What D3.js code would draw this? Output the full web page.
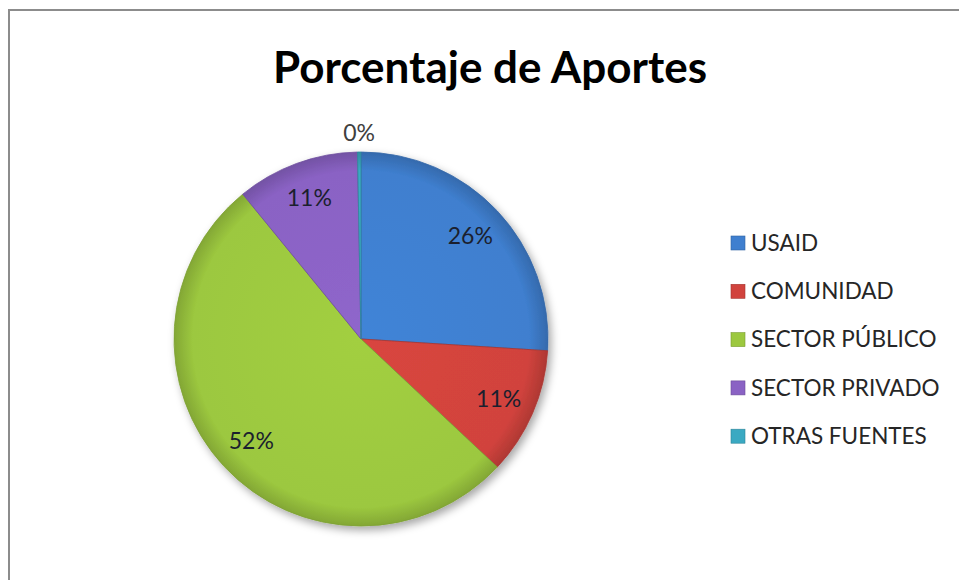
<!DOCTYPE html>
<html>
<head>
<meta charset="utf-8">
<script src="https://cdn.jsdelivr.net/npm/d3@7"></script>
<style>
  body { margin: 0; background: #fff; }
  svg { display: block; font-family: Lato, "Open Sans", sans-serif; }
</style>
</head>
<body>
<script>
// data
const categories = ["USAID", "COMUNIDAD", "SECTOR PÚBLICO", "SECTOR PRIVADO", "OTRAS FUENTES"]
const values = [26.0, 11.0, 52.1, 10.6, 0.3]
const labels = ["26%", "11%", "52%", "11%", "0%"]
const colours = ["#3f7fcf", "#d1433d", "#9cc83f", "#8a62c4", "#3aa9c2"]

const width = 959, height = 580
const cx = 361, cy = 339, R = 187

const svg = d3.select("body").append("svg")
  .attr("width", width)
  .attr("height", height)

// frame
svg.append("path")
  .attr("d", "M9,600 L9,10 L970,10")
  .attr("fill", "none")
  .attr("stroke", "#8c8c8c")
  .attr("stroke-width", 2)

// title
svg.append("text")
  .attr("x", 490)
  .attr("y", 83)
  .attr("text-anchor", "middle")
  .style("font-size", "44px")
  .style("font-weight", "bold")
  .attr("fill", "#000")
  .text("Porcentaje de Aportes")

// soft shadow
const defs = svg.append("defs")
const shadow = defs.append("filter").attr("id", "shadow")
  .attr("x", "-20%").attr("y", "-20%").attr("width", "140%").attr("height", "140%")
shadow.append("feDropShadow")
  .attr("dx", 3).attr("dy", 4).attr("stdDeviation", 4)
  .attr("flood-color", "#000").attr("flood-opacity", 0.35)

// gradients per slice for a little bevel look
colours.forEach(function(c, i) {
  const g = defs.append("radialGradient").attr("id", "grad" + i)
    .attr("gradientUnits", "userSpaceOnUse")
    .attr("cx", 0).attr("cy", 0).attr("r", R)
  g.append("stop").attr("offset", "0%").attr("stop-color", d3.color(c).brighter(0.1))
  g.append("stop").attr("offset", "90%").attr("stop-color", c)
  g.append("stop").attr("offset", "100%").attr("stop-color", d3.color(c).darker(0.5))
})

const pie = d3.pie().sort(null).value(function(d) { return d })
const arcs = pie(values)

const arc = d3.arc().innerRadius(0).outerRadius(R)
const labelArc = d3.arc().innerRadius(150).outerRadius(150)
const outerLabelArc = d3.arc().innerRadius(206).outerRadius(206)

const g = svg.append("g")
  .attr("transform", "translate(" + cx + "," + cy + ")")

g.append("g")
  .attr("filter", "url(#shadow)")
  .selectAll("path")
  .data(arcs)
  .enter()
  .append("path")
    .attr("d", arc)
    .attr("fill", function(d, i) { return "url(#grad" + i + ")" })
    .attr("stroke", function(d, i) { return d3.color(colours[i]).darker(0.6) })
    .attr("stroke-width", 0.8)

g.selectAll("text.lbl")
  .data(arcs)
  .enter()
  .append("text")
    .attr("class", "lbl")
    .attr("transform", function(d) {
      const p = (d.endAngle - d.startAngle) < 0.1 ? outerLabelArc.centroid(d) : labelArc.centroid(d)
      return "translate(" + p + ")"
    })
    .attr("text-anchor", "middle")
    .attr("dy", "0.35em")
    .style("font-size", "23px")
    .attr("fill", function(d) { return (d.endAngle - d.startAngle) < 0.1 ? "#404040" : "#1b1f2e" })
    .text(function(d, i) { return labels[i] })

// legend
const legend = svg.append("g")
  .attr("transform", "translate(731,243)")

const rows = legend.selectAll("g")
  .data(categories)
  .enter()
  .append("g")
    .attr("transform", function(d, i) { return "translate(0," + (i * 48.3) + ")" })

rows.append("rect")
  .attr("x", 0)
  .attr("y", -7)
  .attr("width", 14)
  .attr("height", 14)
  .attr("fill", function(d, i) { return colours[i] })
  .attr("stroke", function(d, i) { return d3.color(colours[i]).darker(0.7) })
  .attr("stroke-width", 0.6)

rows.append("text")
  .attr("x", 20)
  .attr("dy", "0.35em")
  .style("font-size", "22.5px")
  .attr("fill", "#262626")
  .text(function(d) { return d })
</script>
</body>
</html>
